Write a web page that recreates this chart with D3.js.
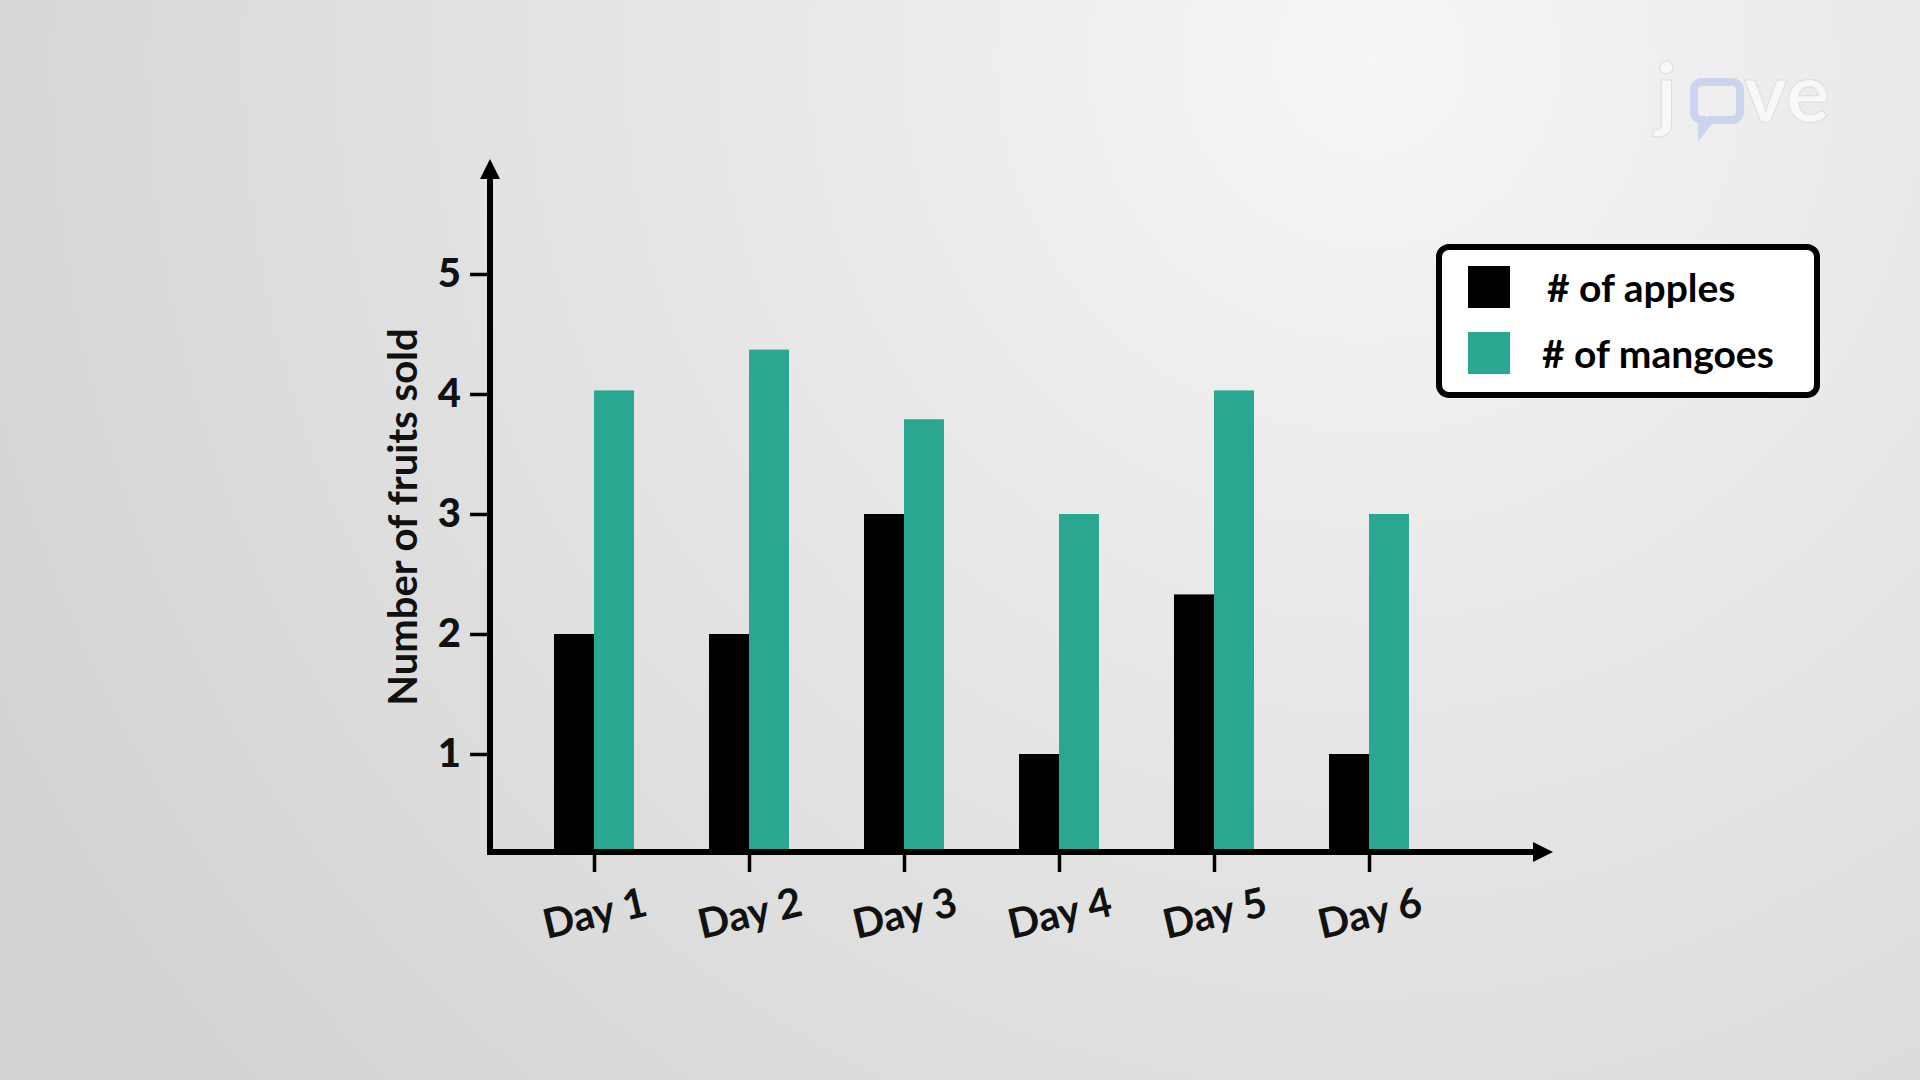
<!DOCTYPE html>
<html>
<head>
<meta charset="utf-8">
<script src="https://cdn.jsdelivr.net/npm/d3@7/dist/d3.min.js"></script>
<style>
  html, body { margin: 0; padding: 0; overflow: hidden; }
  svg { display: block; }
  text { font-family: Lato, "Open Sans", sans-serif; }
</style>
</head>
<body>
<svg id="chart" width="1920" height="1080"></svg>
<script>
// ---- data ----
const days = ["Day 1", "Day 2", "Day 3", "Day 4", "Day 5", "Day 6"];
const apples = [2, 2, 3, 1, 2.33, 1];
const mangoes = [4.03, 4.37, 3.79, 3, 4.03, 3];
const yTicks = [1, 2, 3, 4, 5];
const seriesNames = ["# of apples", "# of mangoes"];
const seriesColors = ["#000000", "#2aa790"];

// ---- layout ----
const W = 1920, H = 1080;
const axisX = 490, baseline = 852, axisTop = 159, axisRight = 1553;
const barW = 40;

const svg = d3.select("#chart");
const defs = svg.append("defs");
const bg = defs.append("radialGradient").attr("id", "bg")
  .attr("gradientUnits", "userSpaceOnUse")
  .attr("cx", 1370).attr("cy", 60).attr("r", 1550);
bg.append("stop").attr("offset", "0").attr("stop-color", "#f6f6f6");
bg.append("stop").attr("offset", "0.45").attr("stop-color", "#e6e6e6");
bg.append("stop").attr("offset", "1").attr("stop-color", "#d3d3d3");
svg.append("rect").attr("width", W).attr("height", H).attr("fill", "url(#bg)");

const x = d3.scalePoint().domain(days).range([594, 1369]);
const y = d3.scaleLinear().domain([0, 5]).range([874, 274]);

// ---- bars ----
const g = svg.append("g");
g.selectAll("rect.apple").data(days).join("rect")
  .attr("class", "apple")
  .attr("x", d => x(d) - barW)
  .attr("width", barW)
  .attr("y", (d, i) => y(apples[i]))
  .attr("height", (d, i) => baseline - y(apples[i]))
  .attr("fill", seriesColors[0]);
g.selectAll("rect.mango").data(days).join("rect")
  .attr("class", "mango")
  .attr("x", d => x(d))
  .attr("width", barW)
  .attr("y", (d, i) => y(mangoes[i]))
  .attr("height", (d, i) => baseline - y(mangoes[i]))
  .attr("fill", seriesColors[1]);

// ---- y axis ----
const yAxis = svg.append("g").attr("transform", `translate(${axisX},0)`)
  .call(d3.axisLeft(y).tickValues(yTicks).tickSize(20).tickPadding(9).tickFormat(d3.format("d")));
yAxis.select(".domain").remove();
yAxis.selectAll(".tick line").attr("stroke", "#000").attr("stroke-width", 3.5);
yAxis.selectAll(".tick text")
  .attr("font-family", "Lato, sans-serif")
  .attr("font-weight", 900)
  .attr("font-size", 40)
  .attr("fill", "#111");

// ---- x axis ----
const xAxis = svg.append("g").attr("transform", `translate(0,${baseline})`)
  .call(d3.axisBottom(x).tickSize(20).tickPadding(0));
xAxis.select(".domain").remove();
xAxis.selectAll(".tick line").attr("stroke", "#000").attr("stroke-width", 3.5);
xAxis.selectAll(".tick text")
  .attr("font-family", "Lato, sans-serif")
  .attr("font-weight", 700)
  .attr("font-size", 41)
  .attr("fill", "#111")
  .attr("text-anchor", "middle")
  .attr("dy", null)
  .attr("y", null)
  .attr("transform", "translate(0,60) rotate(-13)")
  .attr("dominant-baseline", "central");

// axis lines with arrows
svg.append("line").attr("x1", axisX).attr("x2", axisX).attr("y1", baseline + 3).attr("y2", axisTop + 12)
  .attr("stroke", "#000").attr("stroke-width", 6);
svg.append("line").attr("x1", axisX - 3).attr("x2", axisRight - 12).attr("y1", baseline).attr("y2", baseline)
  .attr("stroke", "#000").attr("stroke-width", 6);
svg.append("path")
  .attr("d", `M${axisX},${axisTop} L${axisX + 10},${axisTop + 20} L${axisX - 10},${axisTop + 20} Z`)
  .attr("fill", "#000");
svg.append("path")
  .attr("d", `M${axisRight},${baseline} L${axisRight - 20},${baseline - 10} L${axisRight - 20},${baseline + 10} Z`)
  .attr("fill", "#000");

// y title
svg.append("text")
  .attr("transform", "translate(402,517) rotate(-90)")
  .attr("text-anchor", "middle")
  .attr("dominant-baseline", "central")
  .attr("font-weight", 700)
  .attr("font-size", 40)
  .attr("fill", "#111")
  .text("Number of fruits sold");

// ---- legend ----
const leg = svg.append("g");
leg.append("rect").attr("x", 1439).attr("y", 247).attr("width", 378).attr("height", 148)
  .attr("rx", 10).attr("fill", "#fff").attr("stroke", "#000").attr("stroke-width", 6);
seriesNames.forEach((name, i) => {
  const cy = 287 + i * 66;
  leg.append("rect").attr("x", 1468).attr("y", cy - 21).attr("width", 42).attr("height", 42)
    .attr("fill", seriesColors[i]);
  leg.append("text").attr("x", i === 0 ? 1547 : 1542).attr("y", cy)
    .attr("dominant-baseline", "central")
    .attr("font-weight", 700)
    .attr("font-size", 39)
    .attr("fill", "#000")
    .text(name);
});

// ---- logo ----
const logo = svg.append("g").attr("opacity", 0.9);
logo.append("text").attr("x", 1656).attr("y", 122)
  .attr("font-weight", 700).attr("font-size", 82).attr("fill", "#fafafa")
  .attr("stroke", "#dcdcdc").attr("stroke-width", 1)
  .text("j");
logo.append("path")
  .attr("d", "M1702,82 h30 a8,8 0 0 1 8,8 v22 a8,8 0 0 1 -8,8 h-22 l-8,10 v-10 a8,8 0 0 1 -8,-8 v-22 a8,8 0 0 1 8,-8 Z")
  .attr("fill", "none").attr("stroke", "#c7d2ee").attr("stroke-width", 8);
logo.append("text").attr("x", 1744).attr("y", 122)
  .attr("font-weight", 700).attr("font-size", 82).attr("fill", "#fafafa")
  .attr("stroke", "#dcdcdc").attr("stroke-width", 1)
  .text("ve");
</script>
</body>
</html>
